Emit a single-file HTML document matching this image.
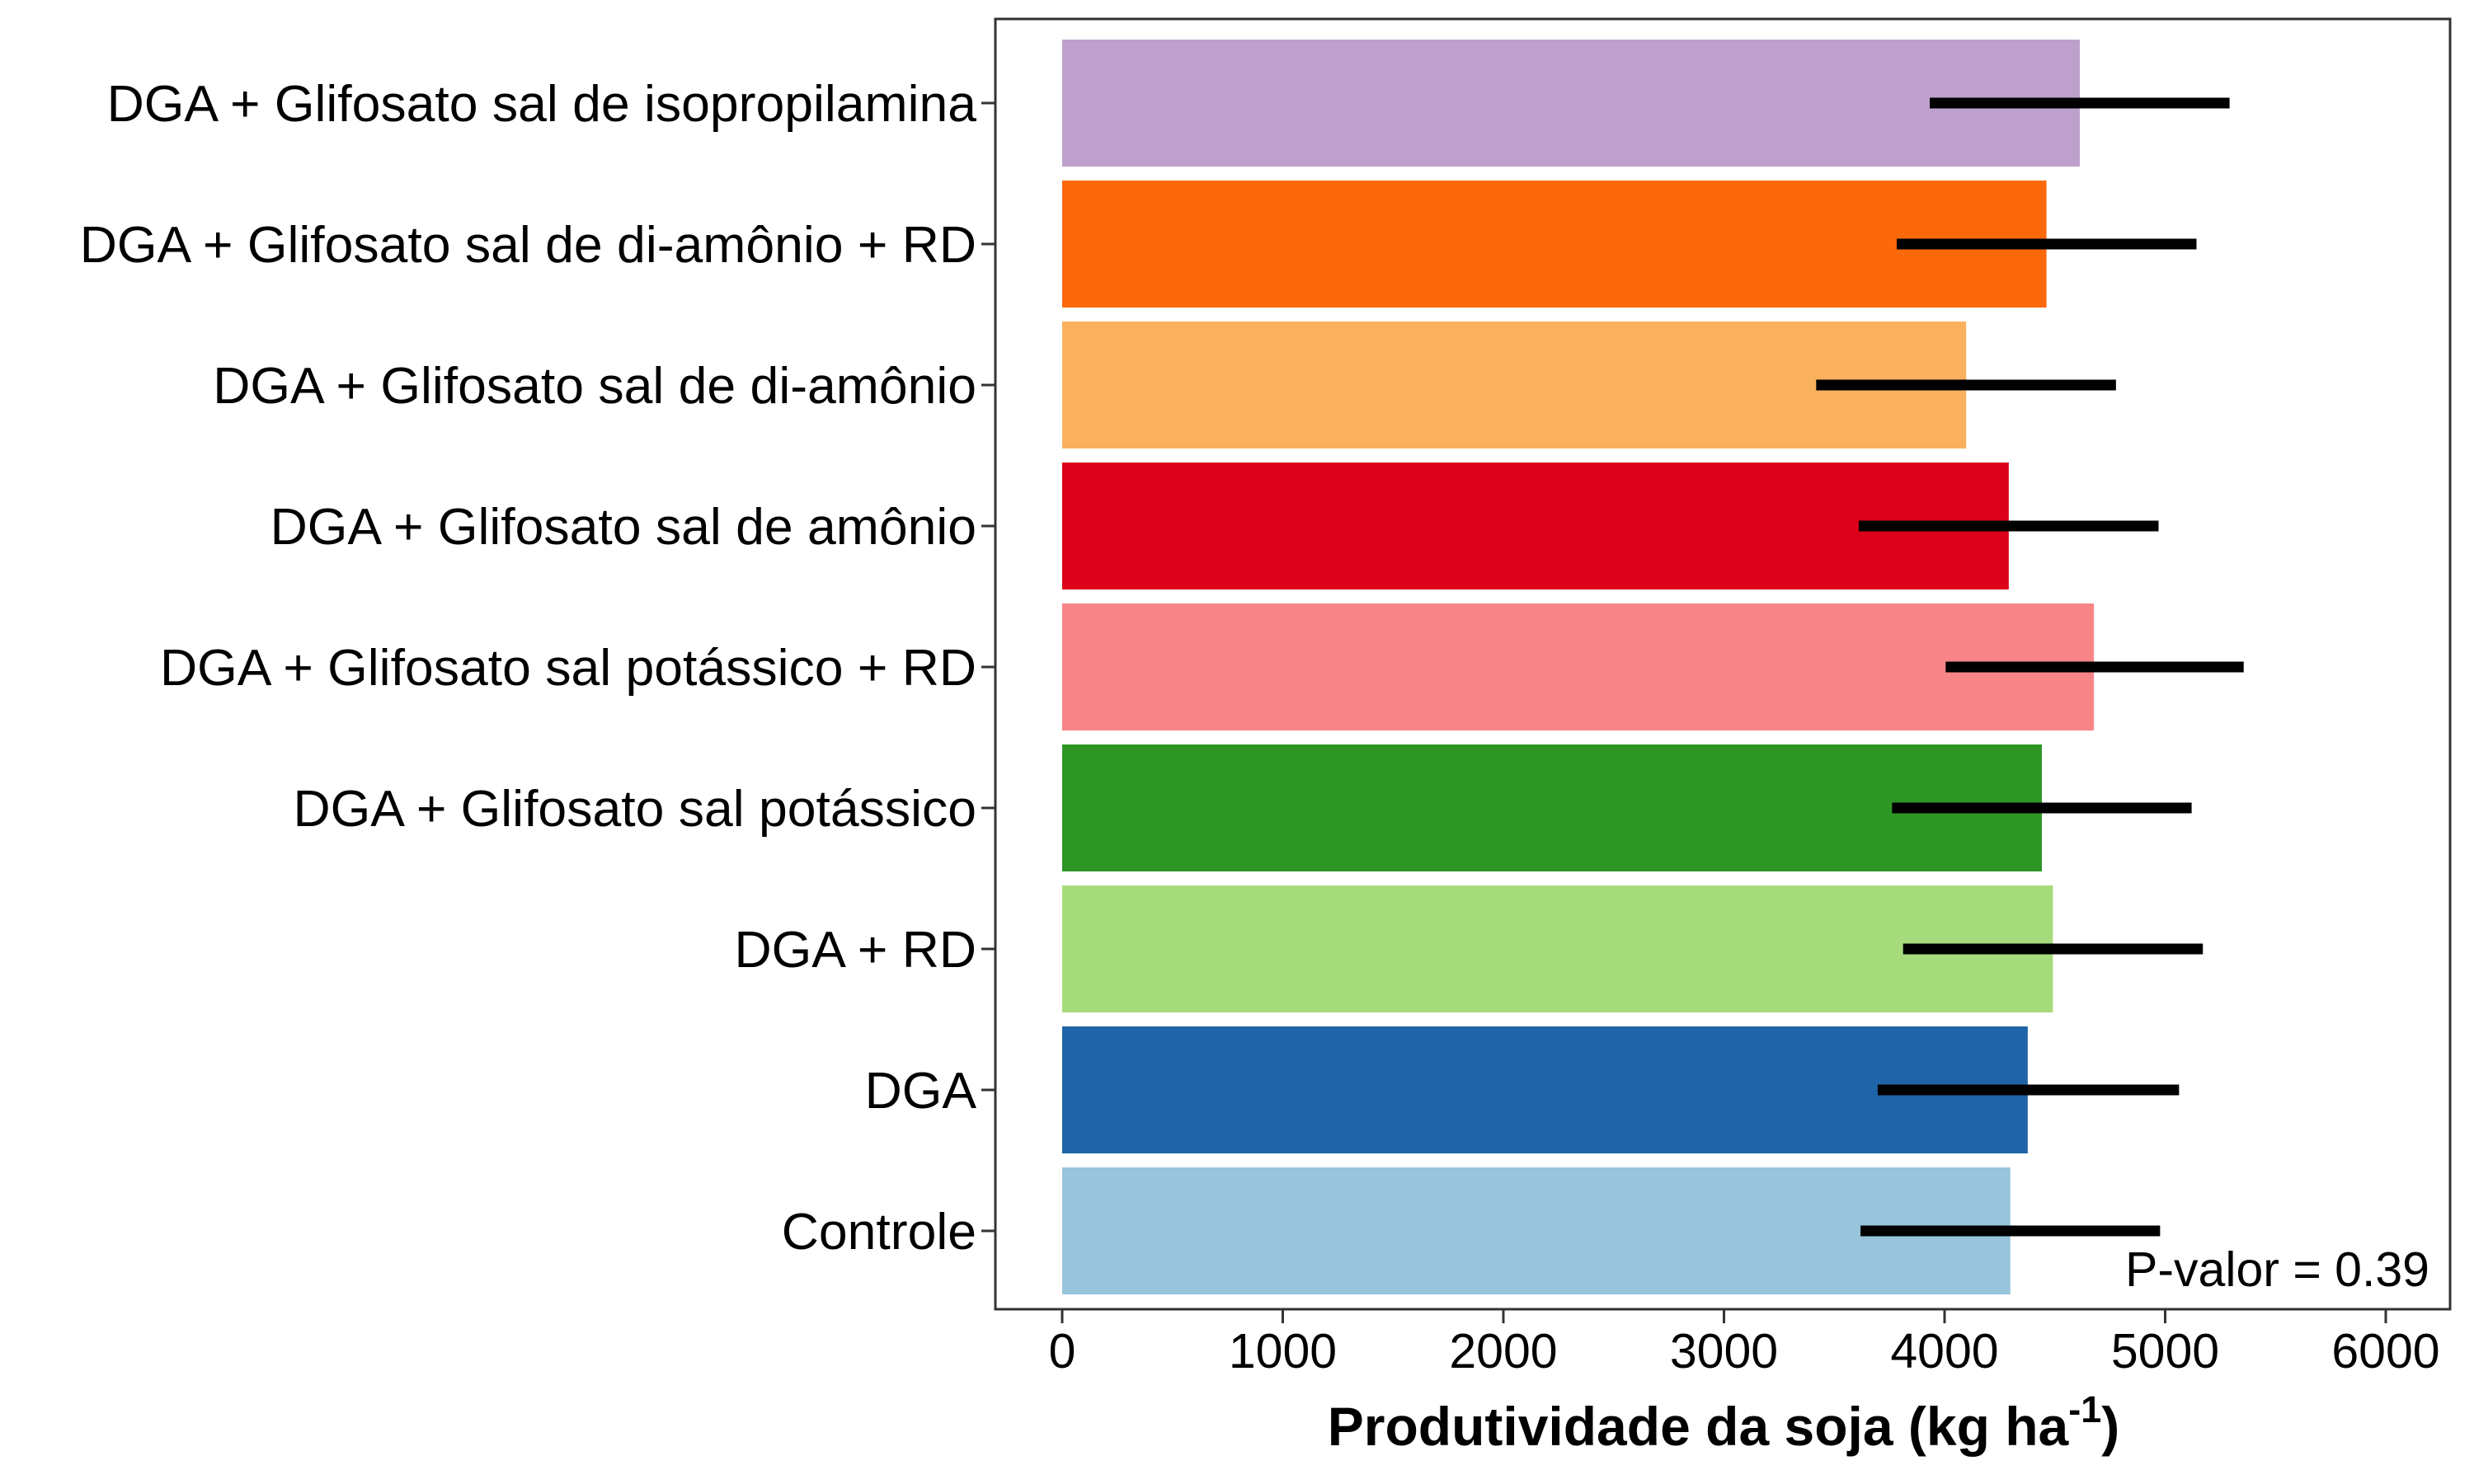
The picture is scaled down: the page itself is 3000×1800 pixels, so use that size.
<!DOCTYPE html>
<html><head><meta charset="utf-8"><style>html,body{margin:0;padding:0;background:#fff}svg{display:block}</style></head>
<body>
<svg id="chart" width="3000" height="1800" xmlns="http://www.w3.org/2000/svg" font-family="'Liberation Sans', Arial, sans-serif">
<rect x="1207" y="23" width="1764" height="1565" fill="#fff" stroke="#333" stroke-width="3"/>
<g id="bars"></g>
<g id="yax"></g>
<g id="xax"></g>
<text x="2946" y="1560" font-size="59" text-anchor="end">P-valor = 0.39</text>
<text x="2090" y="1753" font-size="66" font-weight="bold" text-anchor="middle">Produtividade da soja (kg ha<tspan dy="-28" font-size="45">-1</tspan><tspan dy="28">)</tspan></text>
</svg>
<script>
const categories=["DGA + Glifosato sal de isopropilamina","DGA + Glifosato sal de di-amônio + RD","DGA + Glifosato sal de di-amônio","DGA + Glifosato sal de amônio","DGA + Glifosato sal potássico + RD","DGA + Glifosato sal potássico","DGA + RD","DGA","Controle"];
const values=[4613,4462,4098,4291,4677,4441,4491,4377,4298];
const errLow=[3933,3783,3418,3611,4005,3762,3812,3697,3619];
const errHigh=[5292,5142,4777,4970,5356,5120,5171,5063,4977];
const colors=["#BEA0CC","#FC690B","#F9B15E","#DC001A","#F78587","#2E9625","#A6DB7B","#1F64A6","#98C4DC"];
const xTicks=[0,1000,2000,3000,4000,5000,6000];
const NS="http://www.w3.org/2000/svg";
const x=v=>1288+v*(2893-1288)/6000;
const y=i=>125+i*171;
const bh=154;
function mk(t,a,p,txt){const e=document.createElementNS(NS,t);for(const k in a)e.setAttribute(k,a[k]);if(txt!==undefined)e.textContent=txt;p.appendChild(e);return e;}
const gb=document.getElementById('bars'),gy=document.getElementById('yax'),gx=document.getElementById('xax');
categories.forEach((c,i)=>{
 const r=mk('rect',{x:x(0),y:y(i)-bh/2,width:x(values[i])-x(0),height:bh,fill:colors[i]},gb);
 
 
 const eb=mk('rect',{x:x(errLow[i]),y:y(i)-6.5,width:x(errHigh[i])-x(errLow[i]),height:13,fill:'#000'},gb);
 
 
 const tk=mk('line',{x1:1190,x2:1207,y1:y(i),y2:y(i),stroke:'#333','stroke-width':3},gy);
 
 
 const t=mk('text',{x:1184,y:y(i)+22,'font-size':62.5,'text-anchor':'end'},gy,c);
 
 
});
xTicks.forEach(v=>{
 const tk=mk('line',{x1:x(v),x2:x(v),y1:1588,y2:1605,stroke:'#333','stroke-width':3},gx);
 
 
 const t=mk('text',{x:x(v),y:1659,'font-size':59,'text-anchor':'middle'},gx,String(v));
 
 
});
</script>
</body></html>
